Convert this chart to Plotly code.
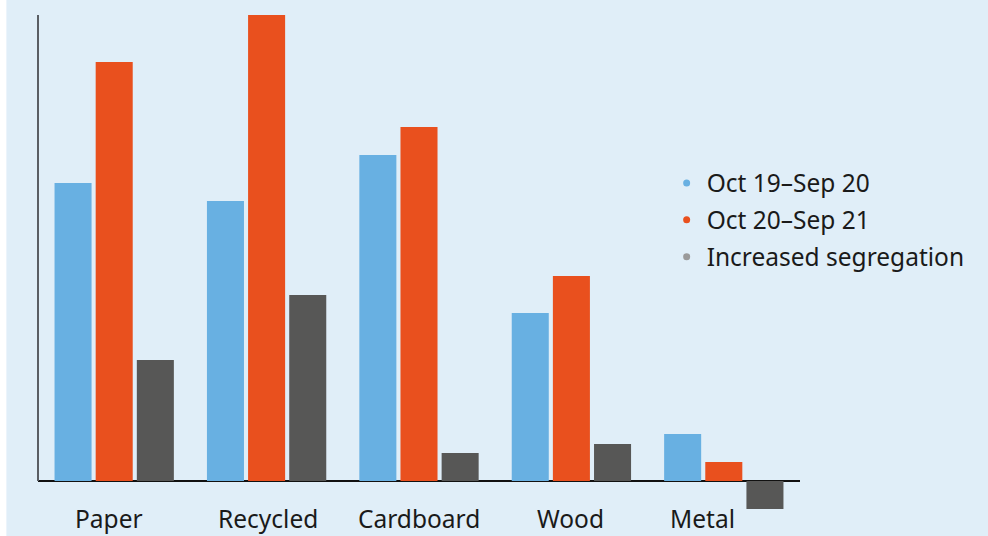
import plotly.graph_objects as go

categories = ["Paper", "Recycled", "Cardboard", "Wood", "Metal"]
period_1 = [298, 280, 326, 168, 47]
period_2 = [419, 466, 354, 205, 19]
increase = [121, 186, 28, 37, -28]
series_names = ["Oct 19–Sep 20", "Oct 20–Sep 21", "Increased segregation"]

bar_colors = ["#68b0e2", "#e9501e", "#575756"]
legend_colors = ["#68b0e2", "#e9501e", "#9a9a9a"]
label_shift = [-5, 1, 0, -1, -21]

FONT = "Noto Sans"
FS = 24.5
fig = go.Figure()
for i, (name, vals) in enumerate(zip(series_names, [period_1, period_2, increase])):
    fig.add_trace(go.Bar(x=categories, y=vals, name=name, marker=dict(color=bar_colors[i], line=dict(width=0)),
                         showlegend=False))
for i, name in enumerate(series_names):
    fig.add_trace(go.Scatter(x=[None], y=[None], mode="markers", name=name, legendgroup=name,
                             marker=dict(color=legend_colors[i], size=7, symbol="circle")))

for cat, sh in zip(categories, label_shift):
    fig.add_annotation(x=cat, y=0, yref="paper", text=cat, showarrow=False, xshift=sh,
                       yanchor="top", yshift=8, borderpad=0,
                       font=dict(family=FONT, size=FS, color="#1a1a1a"))

bg = "#e0eef8"
fig.add_shape(type="rect", xref="paper", yref="paper", x0=-0.06, x1=-0.0415, y0=-0.1, y1=1.1,
              fillcolor="white", line=dict(width=0), layer="below")
fig.add_shape(type="line", xref="paper", yref="y", x0=0, x1=0, y0=0, y1=466,
              line=dict(color="#5a5e64", width=2))

fig.update_layout(
    width=988, height=536,
    margin=dict(l=38, r=188, t=15, b=27),
    paper_bgcolor=bg, plot_bgcolor=bg,
    barmode="group", bargap=0.19, bargroupgap=0.1,
    font=dict(family=FONT, size=FS, color="#1a1a1a"),
    xaxis=dict(showticklabels=False, showgrid=False, showline=False, zeroline=False,
               range=[-0.5, 4.5]),
    yaxis=dict(range=[-28, 466], showgrid=False, showticklabels=False, showline=False,
               zeroline=True, zerolinecolor="#111111", zerolinewidth=2),
    legend=dict(x=0.825, xanchor="left", y=0.585, yanchor="middle", bgcolor="rgba(0,0,0,0)",
                tracegroupgap=2, font=dict(family=FONT, size=FS, color="#1a1a1a")),
)
fig.write_html("out.html")
